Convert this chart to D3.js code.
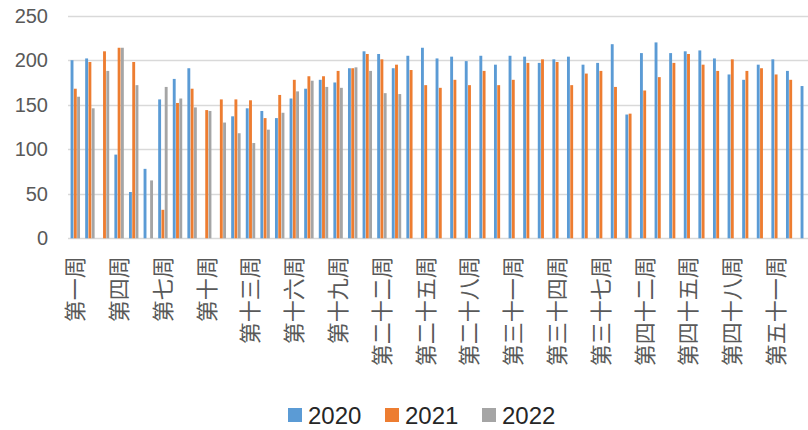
<!DOCTYPE html>
<html lang="zh">
<head>
<meta charset="UTF-8">
<title>周度对比柱状图</title>
<script src="https://d3js.org/d3.v7.min.js"></script>
<style>
  body { margin: 0; background: #fff; }
  svg { display: block; font-family: "Liberation Sans", Arial, sans-serif; }
</style>
</head>
<body>
<svg width="808" height="430"></svg>
<script>
// categories (weeks shown on the x axis)
const weeks = ["第一周","第二周","第三周","第四周","第五周","第六周","第七周","第八周","第九周","第十周",
  "第十一周","第十二周","第十三周","第十四周","第十五周","第十六周","第十七周","第十八周","第十九周","第二十周",
  "第二十一周","第二十二周","第二十三周","第二十四周","第二十五周","第二十六周","第二十七周","第二十八周","第二十九周","第三十周",
  "第三十一周","第三十二周","第三十三周","第三十四周","第三十五周","第三十六周","第三十七周","第三十八周","第四十一周","第四十二周",
  "第四十三周","第四十四周","第四十五周","第四十六周","第四十七周","第四十八周","第四十九周","第五十周","第五十一周","第五十二周",
  "第五十三周"];

const years = ["2020", "2021", "2022"];

// series values (null = no bar)
const v2020 = [200,202,null,94,52,78,156,179,191,null,null,137,146,143,135,157,168,178,175,191,
  210,207,191,205,214,202,204,199,205,195,205,204,197,201,204,195,197,218,139,208,
  220,208,210,211,202,184,178,195,201,188,171];
const v2021 = [168,198,210,214,198,null,32,152,168,144,156,156,155,135,161,178,182,182,188,191,
  207,201,195,189,172,169,178,172,188,172,178,197,201,198,172,185,188,170,140,166,
  181,197,207,195,188,201,188,191,184,178,null];
const v2022 = [159,146,188,214,172,65,170,157,147,143,130,118,107,122,141,165,177,170,169,192,
  188,163,162];

const yTicks = [0, 50, 100, 150, 200, 250];
const colors = ["#5b9bd5", "#ed7d31", "#a5a5a5"];

const svg = d3.select("svg");
const plotLeft = 68, plotTop = 15.7, plotBottom = 238.3;
const step = 14.6;

const x0 = d3.scaleBand()
  .domain(weeks)
  .range([plotLeft, plotLeft + step * weeks.length])
  .paddingInner(0.3)
  .paddingOuter(0.15);

const x1 = d3.scaleBand()
  .domain(years)
  .range([0, x0.bandwidth()])
  .padding(0.12);

const y = d3.scaleLinear().domain([0, 250]).range([plotBottom, plotTop]);

const color = d3.scaleOrdinal().domain(years).range(colors);

// gridlines
svg.append("g")
  .selectAll("line")
  .data(yTicks)
  .join("line")
  .attr("x1", plotLeft)
  .attr("x2", 808)
  .attr("y1", d => Math.round(y(d)) + 0.5)
  .attr("y2", d => Math.round(y(d)) + 0.5)
  .attr("stroke", "#d9d9d9")
  .attr("stroke-width", 1.3);

// y axis labels
const yAxis = svg.append("g")
  .attr("transform", `translate(${plotLeft - 20},0)`)
  .call(d3.axisLeft(y).tickValues(yTicks).tickSize(0).tickPadding(0));
yAxis.select(".domain").remove();
yAxis.selectAll("text")
  .attr("fill", "#595959")
  .style("font-size", "20px")
  .style("font-family", "'Liberation Sans', Arial, sans-serif");

// bars
const rows = weeks.map((w, i) => ({
  week: w,
  vals: [
    { year: "2020", v: v2020[i] },
    { year: "2021", v: v2021[i] },
    { year: "2022", v: v2022[i] }
  ].filter(d => d.v != null)
}));

svg.append("g")
  .selectAll("g")
  .data(rows)
  .join("g")
  .attr("transform", d => `translate(${x0(d.week)},0)`)
  .selectAll("rect")
  .data(d => d.vals)
  .join("rect")
  .attr("x", d => x1(d.year))
  .attr("width", x1.bandwidth())
  .attr("y", d => y(d.v))
  .attr("height", d => y(0) - y(d.v))
  .attr("fill", d => color(d.year));

// x axis labels, every third week, rotated
const xAxis = svg.append("g")
  .attr("transform", `translate(0,${plotBottom + 18})`)
  .call(d3.axisBottom(x0)
    .tickValues(weeks.filter((d, i) => i % 3 === 0))
    .tickSize(0)
    .tickPadding(0));
xAxis.select(".domain").remove();
xAxis.selectAll("text")
  .attr("transform", "rotate(-90)")
  .attr("text-anchor", "end")
  .attr("x", 0)
  .attr("y", 0)
  .attr("dy", "0.36em")
  .attr("fill", "#595959")
  .style("font-size", "22px")
  .style("font-family", "'Noto Sans CJK SC', sans-serif");

// legend
const legend = svg.append("g")
  .selectAll("g")
  .data(years)
  .join("g")
  .attr("transform", (d, i) => `translate(${288 + i * 97},408)`);

legend.append("rect")
  .attr("width", 14)
  .attr("height", 14)
  .attr("fill", color);

legend.append("text")
  .attr("x", 20)
  .attr("y", 16)
  .attr("fill", "#262626")
  .style("font-size", "24px")
  .text(d => d);
</script>
</body>
</html>
